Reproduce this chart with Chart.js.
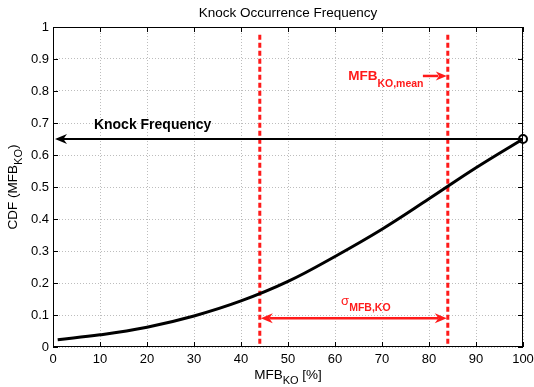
<!DOCTYPE html>
<html>
<head>
<meta charset="utf-8">
<script src="https://cdn.jsdelivr.net/npm/chart.js@4.4.1/dist/chart.umd.min.js"></script>
<style>
  html, body { margin: 0; padding: 0; background: #fff; }
  #wrap { width: 534px; height: 387px; }
</style>
</head>
<body>
<div id="wrap"><canvas id="cdfChart" width="534" height="387"></canvas></div>
<script>
// CDF curve
const mfbValues = [1, 10, 20, 30, 40, 50, 60, 70, 80, 90, 100];
const cdfValues = [0.023, 0.038, 0.062, 0.097, 0.144, 0.205, 0.283, 0.368, 0.463, 0.56, 0.65];

const knockFreq = 0.65;
const mfbMean = 84;
const mfbMinusSigma = 44;
const sigmaArrowY = 0.09;
const dashTop = 0.98;
const dashBottom = 0.01;
const xTicks = [0, 10, 20, 30, 40, 50, 60, 70, 80, 90, 100];
const yTicks = [0, 0.1, 0.2, 0.3, 0.4, 0.5, 0.6, 0.7, 0.8, 0.9, 1];

const RED = '#ff1a1a';
const FONT = 'Liberation Sans, Arial, sans-serif';

const curve = mfbValues.map((x, i) => ({ x: x, y: cdfValues[i] }));

function arrowHead(ctx, x, y, dir, color, len, half) {
    ctx.save();
    ctx.fillStyle = color;
    ctx.beginPath();
    ctx.moveTo(x, y);
    ctx.lineTo(x - dir * len, y - half);
    ctx.lineTo(x - dir * len * 0.7, y);
    ctx.lineTo(x - dir * len, y + half);
    ctx.closePath();
    ctx.fill();
    ctx.restore();
}

function subText(ctx, x, y, main, sub, color, mainFont, subFont, drop) {
    ctx.fillStyle = color;
    ctx.font = mainFont;
    ctx.textAlign = 'left';
    ctx.textBaseline = 'alphabetic';
    ctx.fillText(main, x, y);
    const w = ctx.measureText(main).width;
    ctx.font = subFont;
    ctx.fillText(sub, x + w, y + drop);
    return x + w + ctx.measureText(sub).width;
}

const decorPlugin = {
    id: 'decor',
    afterDatasetsDraw(chart) {
        const ctx = chart.ctx;
        const xs = chart.scales.x, ys = chart.scales.y;
        const a = chart.chartArea;
        ctx.save();

        // frame + inward ticks (MATLAB style)
        ctx.strokeStyle = '#000';
        ctx.lineWidth = 1;
        ctx.strokeRect(a.left + 0.5, a.top + 0.5, a.right - a.left - 1, a.bottom - a.top - 1);
        ctx.beginPath();
        xTicks.forEach(v => {
            const px = Math.round(xs.getPixelForValue(v)) + 0.5;
            ctx.moveTo(px, a.bottom); ctx.lineTo(px, a.bottom - 5);
            ctx.moveTo(px, a.top); ctx.lineTo(px, a.top + 5);
        });
        yTicks.forEach(v => {
            const py = Math.round(ys.getPixelForValue(v)) + 0.5;
            ctx.moveTo(a.left, py); ctx.lineTo(a.left + 5, py);
            ctx.moveTo(a.right, py); ctx.lineTo(a.right - 5, py);
        });
        ctx.stroke();

        // arrowheads
        const ky = ys.getPixelForValue(knockFreq);
        arrowHead(ctx, xs.getPixelForValue(0) + 2, ky, -1, '#000', 12, 5);
        const sy = ys.getPixelForValue(sigmaArrowY);
        arrowHead(ctx, xs.getPixelForValue(mfbMinusSigma) + 1, sy, -1, RED, 12, 5);
        arrowHead(ctx, xs.getPixelForValue(mfbMean) - 1, sy, 1, RED, 12, 5);
        arrowHead(ctx, xs.getPixelForValue(mfbMean) - 1, ys.getPixelForValue(0.847), 1, RED, 11, 4.5);

        // labels inside the plot
        ctx.fillStyle = '#000';
        ctx.font = 'bold 14px ' + FONT;
        ctx.textAlign = 'left';
        ctx.textBaseline = 'alphabetic';
        ctx.fillText('Knock Frequency', xs.getPixelForValue(8.7), ys.getPixelForValue(0.68));

        subText(ctx, xs.getPixelForValue(62.8), ys.getPixelForValue(0.834), 'MFB', 'KO,mean', RED,
            'bold 13.5px ' + FONT, 'bold 10.5px ' + FONT, 7);
        subText(ctx, xs.getPixelForValue(61.3), ys.getPixelForValue(0.13), '\u03c3', 'MFB,KO', RED,
            '13px ' + FONT, 'bold 10.5px ' + FONT, 6);

        // title and axis titles
        ctx.fillStyle = '#000';
        ctx.font = '13.5px ' + FONT;
        ctx.textAlign = 'center';
        ctx.fillText('Knock Occurrence Frequency', (a.left + a.right) / 2, 17);

        // x axis title with subscript
        ctx.font = '13.5px ' + FONT;
        const w1 = ctx.measureText('MFB').width;
        ctx.font = '11px ' + FONT;
        const w2 = ctx.measureText('KO').width;
        ctx.font = '13.5px ' + FONT;
        const w3 = ctx.measureText(' [%]').width;
        let x0 = (a.left + a.right) / 2 - (w1 + w2 + w3) / 2;
        ctx.textAlign = 'left';
        ctx.fillText('MFB', x0, 379);
        ctx.font = '11px ' + FONT;
        ctx.fillText('KO', x0 + w1, 384);
        ctx.font = '13.5px ' + FONT;
        ctx.fillText(' [%]', x0 + w1 + w2, 379);

        // y axis title rotated
        ctx.save();
        ctx.translate(17, (a.top + a.bottom) / 2);
        ctx.rotate(-Math.PI / 2);
        ctx.font = '13.5px ' + FONT;
        const p1 = ctx.measureText('CDF (MFB').width;
        ctx.font = '11px ' + FONT;
        const p2 = ctx.measureText('KO').width;
        ctx.font = '13.5px ' + FONT;
        const p3 = ctx.measureText(')').width;
        let y0 = -(p1 + p2 + p3) / 2;
        ctx.fillText('CDF (MFB', y0, 0);
        ctx.font = '11px ' + FONT;
        ctx.fillText('KO', y0 + p1, 5);
        ctx.font = '13.5px ' + FONT;
        ctx.fillText(')', y0 + p1 + p2, 0);
        ctx.restore();

        ctx.restore();
    }
};

new Chart(document.getElementById('cdfChart').getContext('2d'), {
    type: 'line',
    data: {
        datasets: [
            {
                label: 'CDF',
                data: curve,
                borderColor: '#000',
                borderWidth: 3,
                pointRadius: 0,
                tension: 0.4
            },
            {
                label: 'Knock Frequency',
                data: [{ x: 100, y: knockFreq }, { x: 1, y: knockFreq }],
                borderColor: '#000',
                borderWidth: 2,
                pointRadius: 0
            },
            {
                label: 'mean',
                data: [{ x: mfbMean, y: dashBottom }, { x: mfbMean, y: dashTop }],
                borderColor: RED,
                borderWidth: 3,
                borderDash: [5, 3],
                pointRadius: 0
            },
            {
                label: 'mean - sigma',
                data: [{ x: mfbMinusSigma, y: dashBottom }, { x: mfbMinusSigma, y: dashTop }],
                borderColor: RED,
                borderWidth: 3,
                borderDash: [5, 3],
                pointRadius: 0
            },
            {
                label: 'sigma',
                data: [{ x: mfbMinusSigma + 2, y: sigmaArrowY }, { x: mfbMean - 2, y: sigmaArrowY }],
                borderColor: RED,
                borderWidth: 2.5,
                pointRadius: 0
            },
            {
                label: 'mean pointer',
                data: [{ x: 78.7, y: 0.847 }, { x: 82, y: 0.847 }],
                borderColor: RED,
                borderWidth: 2.5,
                pointRadius: 0
            },
            {
                label: 'end point',
                data: [{ x: 100, y: knockFreq }],
                borderColor: '#000',
                backgroundColor: '#fff',
                borderWidth: 2,
                pointRadius: 4,
                showLine: false,
                clip: false
            }
        ]
    },
    options: {
        responsive: false,
        animation: false,
        layout: { padding: { top: 27, right: 0, left: 0, bottom: 0 } },
        plugins: {
            legend: { display: false },
            tooltip: { enabled: false }
        },
        scales: {
            x: {
                type: 'linear',
                min: 0,
                max: 100,
                afterFit: s => { s.height = 40; s.paddingRight = 11; },
                afterBuildTicks: s => { s.ticks = xTicks.map(v => ({ value: v })); },
                grid: { color: '#bdbdbd', drawTicks: false, lineWidth: 1 },
                border: { display: false, dash: [1, 2] },
                ticks: { color: '#000', font: { family: FONT, size: 13 }, padding: 5, maxRotation: 0,
                         callback: v => String(v) }
            },
            y: {
                type: 'linear',
                min: 0,
                max: 1,
                afterFit: s => { s.width = 53; },
                afterBuildTicks: s => { s.ticks = yTicks.map(v => ({ value: v })); },
                grid: { color: '#bdbdbd', drawTicks: false, lineWidth: 1 },
                border: { display: false, dash: [1, 2] },
                ticks: { color: '#000', font: { family: FONT, size: 13 }, padding: 4,
                         callback: v => String(Math.round(v * 10) / 10) }
            }
        }
    },
    plugins: [decorPlugin]
});
</script>
</body>
</html>
